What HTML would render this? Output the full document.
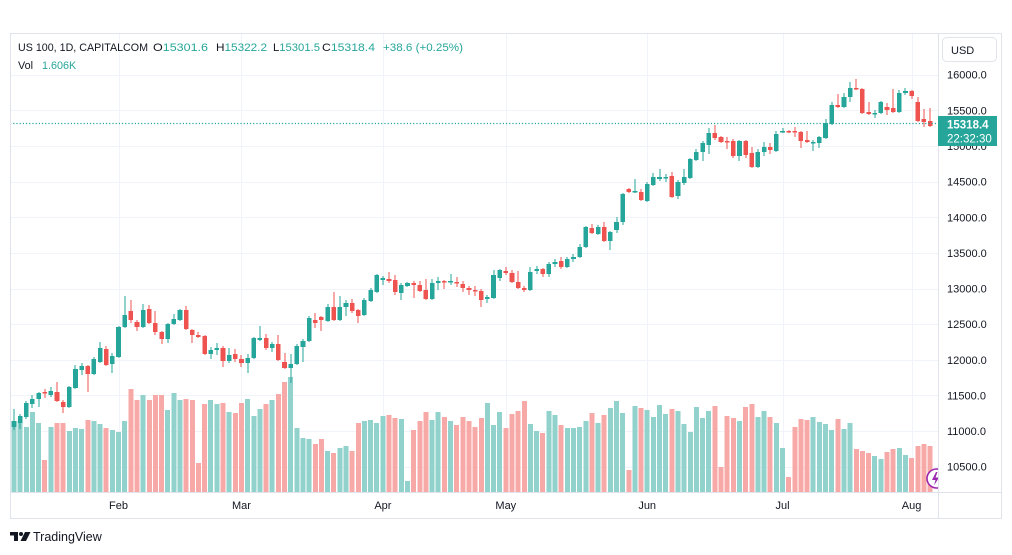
<!DOCTYPE html>
<html>
<head>
<meta charset="utf-8">
<style>
html,body{margin:0;padding:0;background:#fff;width:1012px;height:555px;overflow:hidden;}
svg{display:block;font-family:"Liberation Sans",sans-serif;}
</style>
</head>
<body>
<svg id="c" width="1012" height="555" viewBox="0 0 1012 555" xmlns="http://www.w3.org/2000/svg">
  <rect x="0" y="0" width="1012" height="555" fill="#ffffff"/>
  <defs>
    <clipPath id="pane"><rect x="10" y="34" width="928" height="458"/></clipPath>
  </defs>
  <g id="grid" shape-rendering="crispEdges"></g>
  <g id="vol" clip-path="url(#pane)" shape-rendering="crispEdges"></g>
  <g id="cnd" clip-path="url(#pane)" shape-rendering="crispEdges"></g>
  <line x1="10" y1="123.5" x2="938" y2="123.5" stroke="#26a69a" stroke-width="1.2" stroke-dasharray="1.2,2"/>
  <!-- purple icon -->
  <g clip-path="url(#pane)">
    <circle cx="936.5" cy="478.5" r="9.5" fill="#ffffff" stroke="#9c27b0" stroke-width="1.6"/>
    <path d="M936 472 L932 480 L935.5 480 L934 485.5 L939 477.5 L935.5 477.5 L937.5 472 Z" fill="#9c27b0"/>
  </g>
  <!-- frame & axes -->
  <g shape-rendering="crispEdges" fill="none" stroke="#e0e3eb" stroke-width="1">
    <rect x="10.5" y="33.5" width="991" height="485"/>
    <line x1="938.5" y1="34" x2="938.5" y2="518"/>
    <line x1="10" y1="492.5" x2="1002" y2="492.5"/>
  </g>
  <g id="plabels" font-size="11" fill="#131722"></g>
  <!-- last price label -->
  <rect x="938" y="116" width="59" height="30" fill="#26a69a"/>
  <text x="947" y="128.5" font-size="11.5" font-weight="bold" fill="#ffffff">15318.4</text>
  <text x="947" y="142.5" font-size="11.5" fill="#ffffff">22:32:30</text>
  <!-- USD -->
  <rect x="942.5" y="37.5" width="54" height="24" rx="4" fill="#ffffff" stroke="#e0e3eb"/>
  <text x="951" y="54" font-size="11" fill="#131722">USD</text>
  <!-- time labels -->
  <g font-size="11" fill="#131722" text-anchor="middle">
    <text x="118.5" y="509">Feb</text>
    <text x="241.5" y="509">Mar</text>
    <text x="382.9" y="509">Apr</text>
    <text x="505.8" y="509">May</text>
    <text x="647.2" y="509">Jun</text>
    <text x="782.5" y="509">Jul</text>
    <text x="911.6" y="509">Aug</text>
  </g>
  <!-- legend -->
  <g font-size="10.8" fill="#131722">
    <text x="18" y="51" textLength="130" lengthAdjust="spacingAndGlyphs">US 100, 1D, CAPITALCOM</text>
    <text x="153" y="51" textLength="55" lengthAdjust="spacingAndGlyphs">O<tspan fill="#26a69a">15301.6</tspan></text>
    <text x="216" y="51" textLength="51" lengthAdjust="spacingAndGlyphs">H<tspan fill="#26a69a">15322.2</tspan></text>
    <text x="273" y="51" textLength="47" lengthAdjust="spacingAndGlyphs">L<tspan fill="#26a69a">15301.5</tspan></text>
    <text x="322" y="51" textLength="53" lengthAdjust="spacingAndGlyphs">C<tspan fill="#26a69a">15318.4</tspan></text>
    <text x="383" y="51" fill="#26a69a" textLength="80" lengthAdjust="spacingAndGlyphs">+38.6 (+0.25%)</text>
    <text x="18" y="69">Vol</text>
    <text x="42" y="69" fill="#26a69a">1.606K</text>
  </g>
  <!-- TradingView logo -->
  <g fill="#131722">
    <rect x="10" y="532" width="8" height="3.5"/>
    <rect x="14" y="532" width="4" height="9"/>
    <circle cx="21" cy="534" r="2"/>
    <polygon points="25,532 30.5,532 26,541 20.5,541"/>
  </g>
  <text x="33" y="541" font-size="12.5" fill="#131722">TradingView</text>
</svg>
<script>
(function(){
var NS="http://www.w3.org/2000/svg";
function el(p,n,a){var e=document.createElementNS(NS,n);for(var k in a)e.setAttribute(k,a[k]);p.appendChild(e);return e;}
var data="427,409,430,421,g,421;423,414,429,416,g,421;417,401,419,403,g,427;404,395,408,399,g,412;399,392,407,393,g,423;392,389,398,393,r,460;395,387,397,391,g,427;392,382,402,401,r,423;402,400,413,407,r,423;407,386,408,387,g,431;388,365,389,369,g,428;370,363,375,366,g,429;366,365,392,374,r,420;374,357,375,359,g,421;362,342,363,348,g,424;349,346,366,365,r,428;364,353,373,356,g,430;357,326,358,327,g,432;327,296,328,315,g,421;311,300,323,320,r,389;322,320,331,327,r,400;327,304,328,310,g,395;309,305,324,323,r,400;323,311,335,332,r,395;332,331,344,339,r,395;339,323,343,324,g,410;324,314,325,319,g,393;320,309,321,310,g,400;310,306,330,329,r,399;330,329,343,335,r,400;335,332,338,337,r,463;336,335,355,354,r,404;354,347,359,350,g,400;350,343,355,348,g,404;348,346,367,361,r,403;361,348,363,355,g,412;354,349,362,359,r,413;359,355,367,363,r,403;363,354,373,358,g,399;358,337,359,338,g,416;340,326,341,338,g,409;338,334,350,348,r,404;348,342,352,344,g,400;344,335,361,360,r,394;362,353,369,368,r,382;368,354,383,364,g,377;364,344,365,346,g,428;347,339,362,341,g,438;341,316,342,318,g,439;320,313,328,323,r,444;317,316,331,320,r,439;321,304,322,307,g,451;307,292,321,320,r,453;320,296,321,307,g,448;307,300,316,303,g,446;303,299,313,311,r,451;310,309,323,316,r,423;315,298,316,300,g,421;301,288,302,290,g,420;292,274,293,275,g,423;280,276,285,278,g,416;279,272,283,281,r,415;280,275,295,292,r,418;293,283,300,285,g,419;286,282,287,283,g,481;283,281,298,285,r,430;285,281,292,291,r,421;290,279,300,299,r,412;299,279,300,283,g,420;283,277,290,281,g,412;281,280,289,282,r,417;282,274,285,281,g,421;282,277,287,283,r,425;284,281,292,288,r,417;288,286,295,290,r,421;290,286,296,291,r,427;291,289,307,300,r,418;299,295,303,297,g,403;298,270,299,275,g,425;278,269,281,270,g,412;271,267,275,273,r,428;273,270,283,282,r,414;282,271,289,288,r,411;288,286,292,290,r,401;290,267,291,272,g,424;271,266,274,269,g,431;269,268,277,274,r,433;274,262,277,264,g,411;264,259,267,262,g,415;261,257,269,267,r,425;267,257,268,259,g,428;259,254,262,257,g,428;257,244,258,247,g,427;247,226,248,227,g,421;228,224,234,233,r,413;234,225,235,227,g,423;227,222,242,241,r,415;241,231,250,232,g,408;230,217,233,222,g,401;222,193,225,194,g,413;189,188,193,192,r,470;192,179,193,191,g,406;192,189,201,200,r,408;201,182,202,184,g,410;185,173,186,177,g,417;179,169,181,177,g,405;178,174,182,177,g,414;176,172,198,197,r,409;196,180,199,182,g,411;183,169,185,177,g,424;178,158,179,159,g,432;160,149,161,152,g,407;152,141,161,143,g,418;145,128,154,133,g,411;133,125,140,138,r,406;137,136,143,142,r,467;141,137,149,142,r,416;141,139,158,156,r,418;156,140,161,141,g,421;141,140,158,155,r,407;153,147,168,167,r,404;167,149,168,152,g,417;152,142,156,147,g,411;147,143,154,150,r,417;151,131,152,134,g,423;132,128,133,131,g,448;131,130,133,132,r,477;131,127,137,132,r,427;132,131,148,141,r,419;140,131,143,142,r,420;143,140,151,142,g,417;143,136,148,137,g,422;138,119,139,123,g,424;124,102,125,105,g,430;105,94,108,107,r,419;107,93,108,97,g,429;97,82,102,88,g,423;88,79,90,89,r,449;89,88,114,113,r,451;112,102,115,114,r,453;114,110,118,113,g,456;113,101,114,102,g,459;107,103,115,110,r,452;108,89,113,112,r,449;112,90,113,93,g,448;93,88,95,91,g,455;91,90,99,96,r,458;102,97,122,121,r,446;119,109,127,122,r,444;121,108,127,126,r,446";
var rows=data.split(";");
var grid=document.getElementById("grid"),vol=document.getElementById("vol"),cnd=document.getElementById("cnd"),pl=document.getElementById("plabels");
var X0=14,SP=6.148;
var prices=["16000.0","15500.0","15000.0","14500.0","14000.0","13500.0","13000.0","12500.0","12000.0","11500.0","11000.0","10500.0"];
for(var k=0;k<12;k++){
  var gy=74.7+k*35.64;
  var yy=Math.round(gy)+0.5;
  el(grid,"line",{x1:10,x2:938,y1:yy,y2:yy,stroke:"#f0f3fa","stroke-width":1});
  var t=el(pl,"text",{x:947,y:(gy+4).toFixed(1)});t.textContent=prices[k];
}
[17,37,60,80,103,125,146].forEach(function(i){
  var xx=Math.round(X0+SP*i)+0.5;
  el(grid,"line",{x1:xx,x2:xx,y1:34,y2:492,stroke:"#f0f3fa","stroke-width":1});
});
for(var i=0;i<rows.length;i++){
  var p=rows[i].split(",");
  var o=+p[0],h=+p[1],l=+p[2],c=+p[3],col=p[4],v=+p[5];
  var cx=X0+SP*i;
  var g=(col==="g");
  el(vol,"rect",{x:(cx-2.5).toFixed(2),y:v,width:5,height:(492-v),fill:g?"#92d2cc":"#f7a9a7"});
  var cc=g?"#26a69a":"#ef5350";
  var wx=Math.round(cx)-0.5;
  el(cnd,"rect",{x:wx,y:h,width:1,height:Math.max(1,l-h),fill:cc});
  var top=Math.min(o,c),bot=Math.max(o,c);
  el(cnd,"rect",{x:(cx-2.3).toFixed(2),y:top,width:4.6,height:Math.max(1.5,bot-top),fill:cc});
}
})();
</script>
</body>
</html>
